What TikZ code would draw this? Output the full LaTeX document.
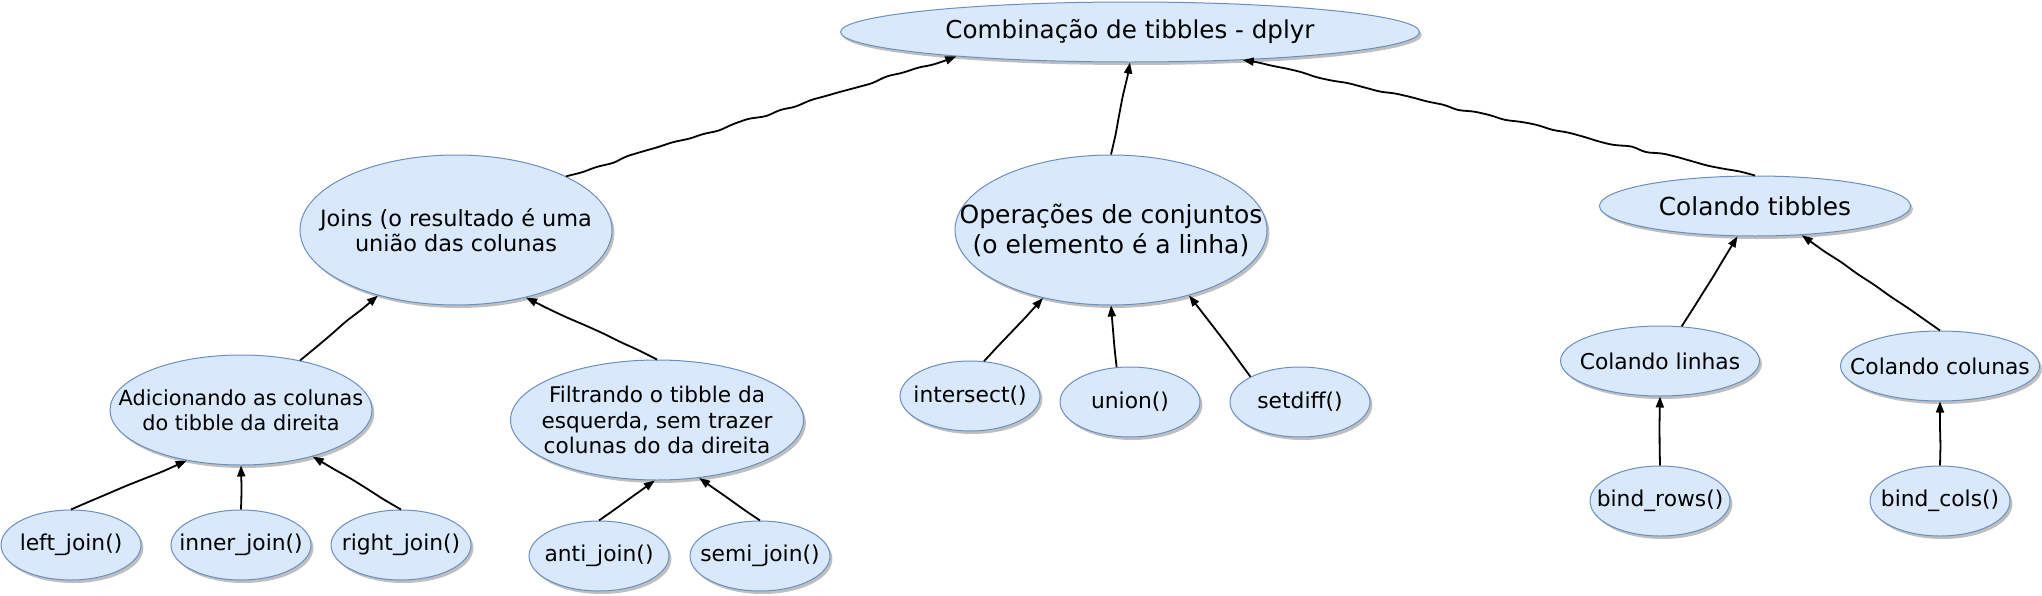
\documentclass[tikz,border=0pt]{standalone}
\usepackage{fontspec}
\setmainfont{DejaVu Sans}
\usetikzlibrary{positioning}
\usetikzlibrary{shapes.geometric}
\usetikzlibrary{shadows}
\usetikzlibrary{arrows.meta}
\usetikzlibrary{decorations.pathmorphing}
\definecolor{bubblefill}{HTML}{DAE8FC}
\definecolor{bubbleline}{HTML}{6C8EBF}

\begin{document}
\pgfmathsetseed{42}
\begin{tikzpicture}[x = 0.5pt, y = -0.5pt,
	bubble/.style = {ellipse, draw = bubbleline, line width = 0.5pt, fill = bubblefill, inner sep = 0pt, drop shadow = {shadow xshift = 1.2pt, shadow yshift = -1.5pt, fill = black, opacity = 0.25}},
	leaf/.style = {bubble, minimum width = 70pt, minimum height = 35pt},
	txt/.style = {align = center, text = black, inner sep = 0pt},
	link/.style = {black, line width = 0.9pt, rounded corners = 2pt, -{Triangle[length = 5.5pt, width = 4pt]}, decorate, decoration = {random steps, segment length = 10pt, amplitude = 0.35pt}},
	longlink/.style = {link, decoration = {random steps, segment length = 8pt, amplitude = 0.8pt}}]
							\useasboundingbox (0, 0) rectangle (2042, 595);
							% raiz
							\node (top) [bubble, minimum width = 289.5pt, minimum height = 30pt, label = {[txt, font = \fontsize{12.3}{14.8}\selectfont]center:Combinação de tibbles - dplyr}] at (1130, 32) {};
							% segundo nivel
							\node (joins) [bubble, minimum width = 156pt, minimum height = 75pt, label = {[txt, font = \fontsize{11.2}{12.6}\selectfont]center:Joins (o resultado é uma\\união das colunas}] at (456, 230) {};
							\node (conj) [bubble, minimum width = 156pt, minimum height = 75pt, label = {[txt, font = \fontsize{12.5}{15}\selectfont]center:Operações de conjuntos\\(o elemento é a linha)}] at (1111, 230) {};
							\node (colar) [bubble, minimum width = 155.5pt, minimum height = 30pt, label = {[txt, font = \fontsize{12.4}{14.8}\selectfont]center:Colando tibbles}] at (1755, 206) {};
							% terceiro nivel
							\node (adic) [bubble, minimum width = 131pt, minimum height = 55pt, label = {[txt, font = \fontsize{10.4}{12.5}\selectfont]center:Adicionando as colunas\\do tibble da direita}] at (241, 410) {};
							\node (filtr) [bubble, minimum width = 146.5pt, minimum height = 60pt, label = {[txt, font = \fontsize{10.8}{12.8}\selectfont]center:Filtrando o tibble da\\esquerda, sem trazer\\colunas do da direita}] at (657, 420) {};
							\node (intersect) [leaf, label = {[txt, font = \fontsize{10.9}{13}\selectfont]center:intersect()}] at (970, 396) {};
							\node (union) [leaf, label = {[txt, font = \fontsize{10.9}{13}\selectfont]center:union()}] at (1130, 402) {};
							\node (setdiff) [leaf, label = {[txt, font = \fontsize{10.9}{13}\selectfont]center:setdiff()}] at (1300, 402) {};
							\node (linhas) [bubble, minimum width = 99.5pt, minimum height = 35pt, label = {[txt, font = \fontsize{10.9}{13}\selectfont]center:Colando linhas}] at (1660, 361) {};
							\node (colunas) [bubble, minimum width = 99.5pt, minimum height = 35pt, label = {[txt, font = \fontsize{10.9}{13}\selectfont]center:Colando colunas}] at (1940, 366) {};
							% folhas
							\node (left) [leaf, label = {[txt, font = \fontsize{10.9}{13}\selectfont]center:left\_join()}] at (71, 545) {};
							\node (inner) [leaf, label = {[txt, font = \fontsize{10.9}{13}\selectfont]center:inner\_join()}] at (241, 545) {};
							\node (right) [leaf, label = {[txt, font = \fontsize{10.9}{13}\selectfont]center:right\_join()}] at (401, 545) {};
							\node (anti) [leaf, label = {[txt, font = \fontsize{10.9}{13}\selectfont]center:anti\_join()}] at (599, 556) {};
							\node (semi) [leaf, label = {[txt, font = \fontsize{10.9}{13}\selectfont]center:semi\_join()}] at (760, 556) {};
							\node (rows) [leaf, label = {[txt, font = \fontsize{10.9}{13}\selectfont]center:bind\_rows()}] at (1660, 501) {};
							\node (cols) [leaf, label = {[txt, font = \fontsize{10.9}{13}\selectfont]center:bind\_cols()}] at (1940, 501) {};
							% ligacoes
							\draw [longlink] (joins.26) -- (top.-172);
							\draw [link] (conj.north) -- (top.south);
							\draw [longlink] (colar.north) -- (top.-14);
							\draw [link] (adic.40) -- (joins.-140);
							\draw [link] (filtr.north) -- (joins.-44);
							\draw [link] (left.north) -- (adic.-137);
							\draw [link] (inner.north) -- (adic.south);
							\draw [link] (right.north) -- (adic.-33);
							\draw [link] (anti.north) -- (filtr.-92);
							\draw [link] (semi.north) -- (filtr.-54);
							\draw [link] (intersect.68) -- (conj.-135);
							\draw [link] (union.111) -- (conj.south);
							\draw [link] (setdiff.153) -- (conj.-40);
							\draw [link] (linhas.58) -- (colar.-120);
							\draw [link] (colunas.north) -- (colar.-32);
							\draw [link] (rows.north) -- (linhas.south);
							\draw [link] (cols.north) -- (colunas.south);
						\end{tikzpicture}
\end{document}
